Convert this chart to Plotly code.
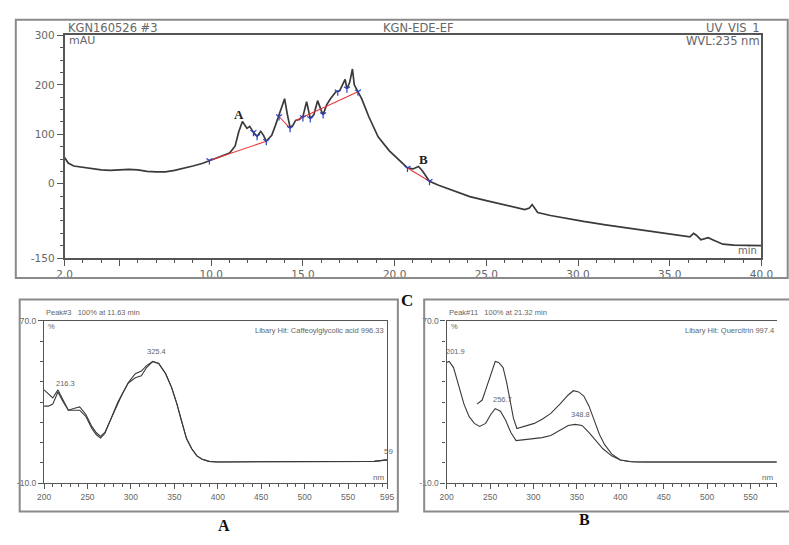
import plotly.graph_objects as go

W, H = 789, 545

# ---------------- chromatogram data (UV_VIS_1, 235 nm) ----------------
chrom_time = [2.0, 2.2, 2.5, 3.0, 3.5, 4.0, 4.5, 5.0, 5.5, 6.0, 6.5, 7.0, 7.5, 8.0, 8.5,
              9.0, 9.5, 10.0, 10.5, 11.0, 11.3, 11.5, 11.7, 11.85, 11.95, 12.1, 12.3, 12.5,
              12.7, 12.85, 13.0, 13.15, 13.3, 13.5, 13.7, 13.85, 14.0, 14.15, 14.3, 14.45,
              14.6, 14.8, 15.0, 15.2, 15.4, 15.6, 15.8, 16.0, 16.1, 16.3, 16.5, 16.8, 17.0,
              17.3, 17.4, 17.55, 17.7, 17.8, 18.0, 18.2, 18.6, 19.1, 19.7, 20.2, 20.7, 21.0,
              21.3, 21.5, 21.9, 22.4, 22.9, 23.5, 24.1, 25.0, 26.0, 27.1, 27.35, 27.5, 27.65,
              27.8, 28.5, 29.5, 30.3, 31.5, 33.0, 33.9, 35.0, 36.1, 36.3, 36.45, 36.7, 37.1,
              37.4, 37.9, 38.5, 39.2, 40.0]
chrom_mau = [53, 42, 36, 33, 30, 28, 27, 28, 29, 28, 25, 24, 24, 27, 31,
             36, 41, 48, 55, 62, 76, 105, 126, 118, 112, 116, 104, 96,
             106, 98, 86, 92, 98, 118, 138, 155, 172, 140, 114, 118,
             128, 130, 136, 166, 132, 140, 168, 148, 140, 160, 172, 186, 188,
             211, 192, 205, 232, 200, 186, 172, 135, 95, 67, 50, 32, 30,
             35, 27, 5, -3, -10, -17, -26, -34, -42, -52, -49, -42, -50,
             -58, -64, -71, -76, -83, -91, -96, -101, -107, -100, -104, -113, -109,
             -114, -122, -124, -124, -125]

base1_time, base1_mau = [9.9, 13.0], [47, 86]
base2_time, base2_mau = [13.7, 14.3], [136, 112]
base3_time, base3_mau = [14.6, 18.0], [128, 186]
base4_time, base4_mau = [20.7, 21.9], [32, 5]

mark_time = [9.9, 12.3, 12.5, 13.0, 13.7, 14.3, 15.0, 15.4, 16.1, 16.9, 17.4, 18.0, 20.7, 21.9]
mark_mau = [47, 104, 96, 86, 136, 112, 134, 132, 140, 186, 192, 186, 32, 5]

chrom_xticks = [2, 5, 10, 15, 20, 25, 30, 35, 40]
chrom_xlabels = ["2.0", "", "10.0", "15.0", "20.0", "25.0", "30.0", "35.0", "40.0"]
chrom_yticks = [-150, 0, 100, 200, 300]
chrom_ylabels = ["-150", "0", "100", "200", "300"]

# ---------------- spectrum A (peak #3, 11.63 min) ----------------
spec_a_nm = [200, 205, 210, 216, 222, 228, 235, 241, 248, 255, 260, 265, 270, 278, 285,
             290, 297, 305, 312, 318, 325, 332, 340, 347, 353, 358, 364, 370, 376, 382,
             390, 400, 420, 450, 500, 550, 580, 595]
spec_a_sample = [36, 34, 32, 36, 31, 26, 27, 27.6, 24, 18, 15, 13.1, 15, 22.8, 30,
                 34, 39.6, 44, 45.3, 48, 50, 49, 44, 37, 29, 21, 12, 7, 3.5, 1.8,
                 0.8, 0.5, 0.5, 0.5, 0.5, 0.5, 0.8, 1.5]
spec_a_library = [28, 28, 29, 35, 30, 26, 26, 26, 23, 17, 14, 12.3, 14.5, 22.5, 30,
                  34, 39.4, 42, 42.9, 47, 50, 49, 44, 37, 29, 21, 12, 7, 3.5, 1.8,
                  0.8, 0.5, 0.5, 0.5, 0.5, 0.5, 0.8, 1.5]

# ---------------- spectrum B (peak #11, 21.32 min) ----------------
spec_b_low_nm = [200, 203, 208, 214, 220, 226, 232, 238, 245, 251, 256, 262, 268, 274, 280,
                 290, 301, 310, 320, 330, 340, 348, 356, 364, 372, 380, 390, 400, 413, 430,
                 500, 580]
spec_b_low = [49.5, 50, 47, 38, 29, 22.8, 19.5, 18, 19.5, 24, 26.8, 25.5, 21, 15, 11,
              11.5, 12, 12.5, 13.5, 16, 18.5, 19, 18.5, 15, 11, 7, 3.5, 1.5, 0.6, 0.5,
              0.5, 0.5]
spec_b_up_nm = [235, 241, 245, 249, 253, 256, 260, 265, 269, 273, 277, 281, 290, 301, 310,
                320, 331, 340, 346, 352, 358, 364, 370, 376, 382, 390, 400, 410, 420, 500, 580]
spec_b_up = [29, 31, 36, 41, 47, 50, 49.5, 47, 40, 31, 22, 17, 18, 19.5, 21.5,
             24.4, 29.2, 33.5, 35.6, 35, 33, 28, 21, 14, 9, 4.5, 1.5, 0.7, 0.5, 0.5, 0.5]

spec_xticks = [200, 250, 300, 350, 400, 450, 500, 550, 595]
spec_xlabels = ["200", "250", "300", "350", "400", "450", "500", "550", "595"]
spec_yticks = [-10, 70]
spec_ylabels = ["-10.0", "70.0"]


def px(x):
    return x / W


def py(y):
    return 1 - y / H


LINE = "#3a3a3a"
AX = "#555555"
TXT = "#666666"
NARROW = "Liberation Sans, Arial, sans-serif"
WIDE = "DejaVu Sans, Verdana, sans-serif"
SERIF = "Liberation Serif, Times New Roman, DejaVu Serif, serif"

fig = go.Figure()

fig.add_trace(go.Scatter(x=chrom_time, y=chrom_mau, mode="lines",
                         line=dict(color=LINE, width=1.7), xaxis="x", yaxis="y"))
for bt, bm in [(base1_time, base1_mau), (base2_time, base2_mau),
               (base3_time, base3_mau), (base4_time, base4_mau)]:
    fig.add_trace(go.Scatter(x=bt, y=bm, mode="lines",
                             line=dict(color="#e8383d", width=1.1), xaxis="x", yaxis="y"))
fig.add_trace(go.Scatter(x=mark_time, y=mark_mau, mode="markers",
                         marker=dict(symbol="y-down-open", size=5, color="#2b3fc4",
                                     line=dict(color="#2b3fc4", width=1.2)),
                         xaxis="x", yaxis="y"))

fig.add_trace(go.Scatter(x=spec_a_nm, y=spec_a_sample, mode="lines",
                         line=dict(color=LINE, width=1.1), xaxis="x2", yaxis="y2"))
fig.add_trace(go.Scatter(x=spec_a_nm, y=spec_a_library, mode="lines",
                         line=dict(color=LINE, width=1.1), xaxis="x2", yaxis="y2"))
fig.add_trace(go.Scatter(x=spec_b_low_nm, y=spec_b_low, mode="lines",
                         line=dict(color=LINE, width=1.1), xaxis="x3", yaxis="y3"))
fig.add_trace(go.Scatter(x=spec_b_up_nm, y=spec_b_up, mode="lines",
                         line=dict(color=LINE, width=1.1), xaxis="x3", yaxis="y3"))

chrom_tick_font = dict(family=WIDE, size=10.5, color=TXT)
spec_tick_font = dict(family=NARROW, size=8.5, color=TXT)

a_scale = (389 - 37) / 395.0
b_max = 200 + (W - 450) / a_scale

fig.update_layout(
    width=W, height=H, margin=dict(l=0, r=0, t=0, b=0),
    paper_bgcolor="white", plot_bgcolor="white", showlegend=False,
    xaxis=dict(domain=[px(58), px(773)], range=[2, 40], anchor="y",
               showline=True, mirror=True, linecolor=AX, linewidth=1.5,
               showgrid=False, zeroline=False,
               tickmode="array", tickvals=chrom_xticks, ticktext=chrom_xlabels,
               ticks="outside", ticklen=6, tickcolor=AX, tickfont=chrom_tick_font,
               minor=dict(dtick=1, tick0=0, ticks="outside", ticklen=3, tickcolor=AX)),
    yaxis=dict(domain=[py(257.7), py(30)], range=[-150, 300], anchor="x",
               showline=True, mirror=True, linecolor=AX, linewidth=1.5,
               showgrid=False, zeroline=False,
               tickmode="array", tickvals=chrom_yticks, ticktext=chrom_ylabels,
               ticks="outside", ticklen=6, tickcolor=AX, tickfont=chrom_tick_font,
               minor=dict(dtick=25, tick0=0, ticks="outside", ticklen=3, tickcolor=AX)),
    xaxis2=dict(domain=[px(37), px(389)], range=[200, 595], anchor="y2",
                showline=True, mirror=True, linecolor=AX, linewidth=1.3,
                showgrid=False, zeroline=False,
                tickmode="array", tickvals=spec_xticks, ticktext=spec_xlabels,
                ticks="outside", ticklen=5, tickcolor=AX, tickfont=spec_tick_font,
                minor=dict(dtick=10, tick0=0, ticks="outside", ticklen=3, tickcolor=AX)),
    yaxis2=dict(domain=[py(488), py(322)], range=[-10, 70], anchor="x2",
                showline=True, mirror=True, linecolor=AX, linewidth=1.3,
                showgrid=False, zeroline=False,
                tickmode="array", tickvals=spec_yticks, ticktext=spec_ylabels,
                ticks="outside", ticklen=5, tickcolor=AX, tickfont=spec_tick_font,
                minor=dict(dtick=10, tick0=0, ticks="outside", ticklen=3, tickcolor=AX)),
    xaxis3=dict(domain=[px(450), 1.0], range=[200, b_max], anchor="y3",
                showline=True, mirror=True, linecolor=AX, linewidth=1.3,
                showgrid=False, zeroline=False,
                tickmode="array", tickvals=spec_xticks, ticktext=spec_xlabels,
                ticks="outside", ticklen=5, tickcolor=AX, tickfont=spec_tick_font,
                minor=dict(dtick=10, tick0=0, ticks="outside", ticklen=3, tickcolor=AX)),
    yaxis3=dict(domain=[py(488), py(322)], range=[-10, 70], anchor="x3",
                showline=True, mirror=False, linecolor=AX, linewidth=1.3,
                showgrid=False, zeroline=False,
                tickmode="array", tickvals=spec_yticks, ticktext=spec_ylabels,
                ticks="outside", ticklen=5, tickcolor=AX, tickfont=spec_tick_font,
                minor=dict(dtick=10, tick0=0, ticks="outside", ticklen=3, tickcolor=AX)),
)

# outer frames
FRAME = "#8a8a8a"
for x0, y0, x1, y1 in [(8, 14, 800, 278), (12, 300, 400, 517), (427, 300, 820, 517)]:
    fig.add_shape(type="rect", xref="paper", yref="paper",
                  x0=px(x0), x1=px(x1), y0=py(y1), y1=py(y0),
                  line=dict(color=FRAME, width=2), fillcolor="rgba(0,0,0,0)")

anns = []


def paper_text(text, x, y, size, family, color=TXT, xanchor="left", bold=False):
    anns.append(dict(text=("<b>%s</b>" % text) if bold else text, x=px(x), y=py(y),
                     xref="paper", yref="paper", xanchor=xanchor, yanchor="middle",
                     showarrow=False, font=dict(family=family, size=size, color=color)))


def data_text(text, x, y, xr, yr, size, family, color=TXT, bold=False):
    anns.append(dict(text=("<b>%s</b>" % text) if bold else text, x=x, y=y,
                     xref=xr, yref=yr, xanchor="center", yanchor="middle",
                     showarrow=False, font=dict(family=family, size=size, color=color)))


# chromatogram header texts
paper_text("KGN160526 #3", 59, 22, 11.5, WIDE)
paper_text("KGN-EDE-EF", 421, 22, 11.5, WIDE, xanchor="center")
paper_text("UV_VIS_1", 774, 22, 11.5, WIDE, xanchor="right")
paper_text("mAU", 61, 35, 11, WIDE)
paper_text("WVL:235 nm", 774, 36, 11.5, WIDE, xanchor="right")
paper_text("min", 771, 250, 10, WIDE, xanchor="right")
data_text("A", 11.5, 140, "x", "y", 13, SERIF, color="#222", bold=True)
data_text("B", 21.6, 49, "x", "y", 13, SERIF, color="#222", bold=True)

# spectrum A texts
paper_text("Peak#3   100% at 11.63 min", 37, 313, 7.5, NARROW)
paper_text("%", 39, 328, 7.5, NARROW)
paper_text("Libary Hit: Caffeoylglycolic acid 996.33", 388, 332, 7.5, NARROW, xanchor="right")
paper_text("59", 397, 456, 8, NARROW, xanchor="right")
paper_text("nm", 388, 482, 8, NARROW, xanchor="right")
data_text("216.3", 225, 39, "x2", "y2", 7.5, NARROW)
data_text("325.4", 330, 55, "x2", "y2", 7.5, NARROW)

# spectrum B texts
paper_text("Peak#11   100% at 21.32 min", 450, 313, 7.5, NARROW)
paper_text("%", 452, 328, 7.5, NARROW)
paper_text("Libary Hit: Quercitrin 997.4", 788, 332, 7.5, NARROW, xanchor="right")
paper_text("nm", 787, 482, 8, NARROW, xanchor="right")
data_text("201.9", 210, 55, "x3", "y3", 7.5, NARROW)
data_text("256.7", 264, 31.5, "x3", "y3", 7.5, NARROW)
data_text("348.8", 354, 23.7, "x3", "y3", 7.5, NARROW)

# panel letters
paper_text("C", 409, 301, 17, SERIF, color="#111", xanchor="center", bold=True)
paper_text("A", 222, 531, 16, SERIF, color="#111", xanchor="center", bold=True)
paper_text("B", 591, 525, 16, SERIF, color="#111", xanchor="center", bold=True)

fig.update_layout(annotations=anns)

fig.write_html("out.html",
               config={"displayModeBar": False},
               post_script="document.body.style.margin='0';"
                           "document.body.style.padding='0';"
                           "document.body.style.overflow='hidden';")
